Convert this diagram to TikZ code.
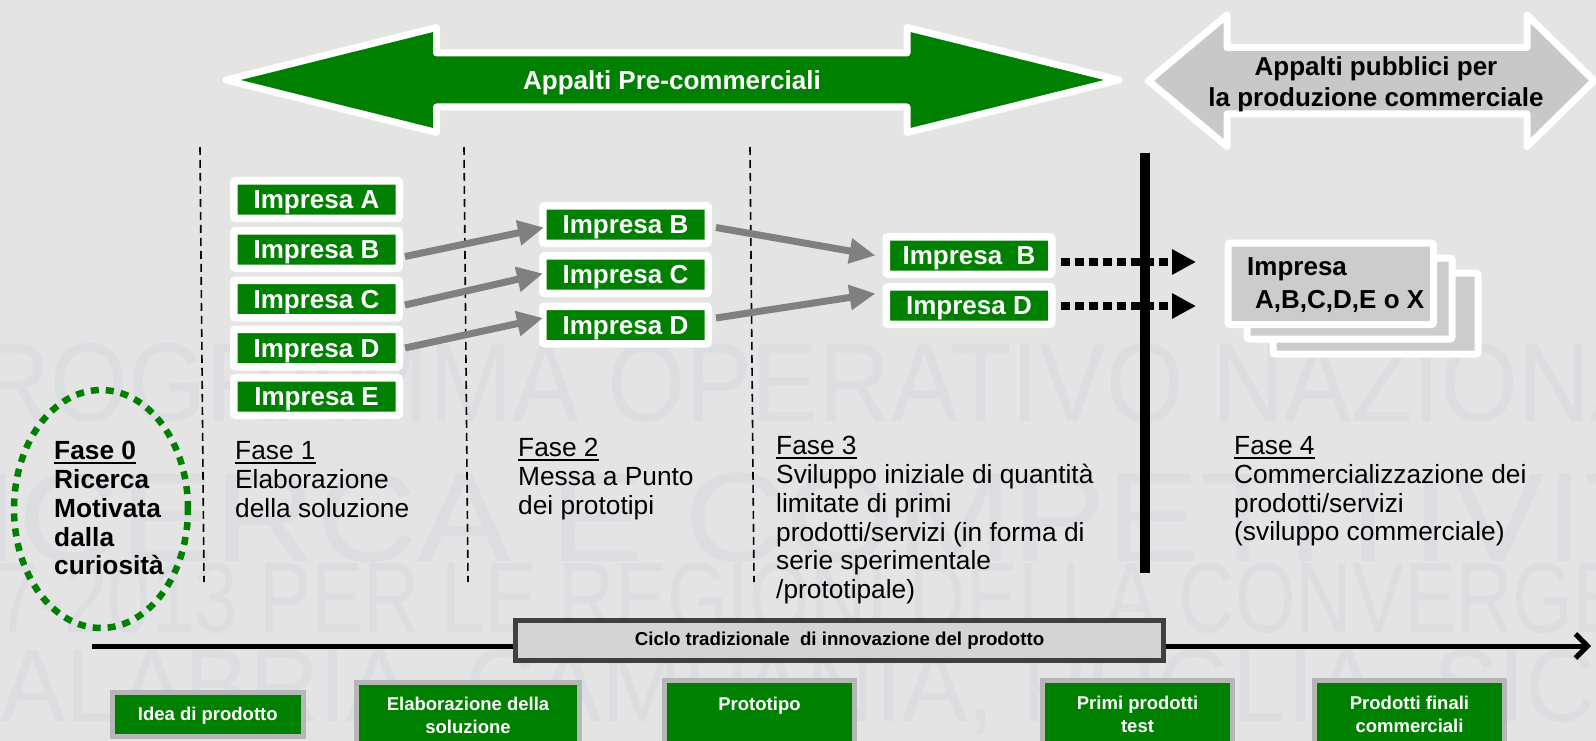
\documentclass[tikz,border=0pt]{standalone}
\usepackage{fontspec}
\usepackage{graphicx}
\setmainfont{Liberation Sans}
\usetikzlibrary{arrows.meta,calc,shapes.geometric}
\definecolor{bg}{RGB}{228,228,228}
\definecolor{pgreen}{RGB}{0,128,0}
\definecolor{wm}{RGB}{220,221,224}
\definecolor{arrgray}{RGB}{200,200,200}
\definecolor{conn}{RGB}{128,128,128}
\definecolor{boxgray}{RGB}{204,204,204}
\definecolor{ciclofill}{RGB}{212,212,212}
\definecolor{cicloborder}{RGB}{64,64,64}
\definecolor{bborder}{RGB}{182,182,182}
\newcommand{\fs}[2]{\fontsize{#1pt}{#2pt}\selectfont}
\newsavebox{\ulbox}
\newcommand{\faseul}[1]{\sbox{\ulbox}{#1}\rlap{\rule[-4.2pt]{\wd\ulbox}{2pt}}\usebox{\ulbox}}
\begin{document}
\begin{tikzpicture}[x=1pt,y=-1pt,
  wmtext/.style={anchor=south west, inner sep=0pt, text=wm, font=\fs{40}{40}},
  impbox/.style={rectangle, fill=pgreen, draw=white, line width=7.5pt, rounded corners=2pt,
    minimum width=165.5pt, minimum height=37.5pt, inner sep=0pt, text=white,
    font=\bfseries\fs{26}{30}, text height=18.5pt, text depth=0pt},
  connarrow/.style={draw=conn, line width=7pt, -{Triangle[length=26pt,width=24pt]}},
  dotarrow/.style={draw=black, line width=8pt, dash pattern=on 9pt off 5pt, -{Triangle[length=24pt,width=24pt]}},
  phasetext/.style={anchor=north west, inner sep=0pt, align=left, font=\fs{26.3}{28.8}},
  vdash/.style={draw=black, line width=1.6pt, dash pattern=on 8pt off 5pt},
  stackbox/.style={rectangle, fill=boxgray, draw=white, line width=7pt, rounded corners=2pt,
    minimum width=205pt, minimum height=81pt, inner sep=0pt},
  bbox/.style={rectangle, fill=pgreen, draw=bborder, line width=5pt, inner sep=0pt},
  btext/.style={anchor=north, inner sep=0pt, align=center, text=white, font=\bfseries\fs{18.5}{23}}
]
\useasboundingbox (0,0) rectangle (1596,741);
\clip (0,0) rectangle (1596,741);
\fill[bg] (0,0) rectangle (1596,741);

% watermark
\node[wmtext] (w1) at (607,423) {\resizebox{577pt}{78pt}{\llap{PROGRAMMA }OPERATIVO\rlap{ NAZIONALE}}};
\node[wmtext] (w2) at (684,563) {\resizebox{900pt}{110pt}{\llap{RICERCA E }COMPETITIVI\rlap{TÀ}}};
\node[wmtext] (w3) at (-5,634) {\resizebox{1578pt}{70pt}{\llap{200}7-2013 PER LE REGIONI DELLA CONVERG\rlap{ENZA}}};
\node[wmtext] (w4) at (0,735) {\resizebox{1525pt}{72pt}{\llap{C}ALABRIA, CAMPANIA, PUGLIA, SI\rlap{CILIA}}};

% top arrows
\draw[draw=white, fill=pgreen, line width=7pt, line join=round]
  (226,80) -- (436.5,27.5) -- (436.5,53) -- (907,53) -- (907,27.5) -- (1119,80)
  -- (907,132.5) -- (907,107) -- (436.5,107) -- (436.5,132.5) -- cycle;
\node[anchor=base, inner sep=0pt, text=white, font=\bfseries\fs{26}{30}] (apc) at (672,90) {Appalti Pre-commerciali};
\draw[draw=white, fill=arrgray, line width=7pt, line join=round]
  (1148.5,80.75) -- (1227,15) -- (1227,47.5) -- (1527,47.5) -- (1527,15) -- (1594,80.75)
  -- (1527,146.5) -- (1527,114) -- (1227,114) -- (1227,146.5) -- cycle;
\node[anchor=north, inner sep=0pt, align=center, font=\bfseries\fs{26}{31}] (app) at (1376,56.5) {Appalti pubblici per\\la produzione commerciale};

% vertical dashed separators
\coordinate (d1t) at (200,147); \coordinate (d1b) at (204,582);
\coordinate (d2t) at (464,147); \coordinate (d2b) at (468,582);
\coordinate (d3t) at (750,147); \coordinate (d3b) at (754,582);
\draw[vdash] (d1t) -- (d1b);
\draw[vdash] (d2t) -- (d2b);
\draw[vdash] (d3t) -- (d3b);

% companies
\node[impbox] (c1a) at (316.5,199.5) {Impresa A};
\node[impbox] (c1b) at (316.5,249.5) {Impresa B};
\node[impbox] (c1c) at (316.5,299) {Impresa C};
\node[impbox] (c1d) at (316.5,348) {Impresa D};
\node[impbox] (c1e) at (316.5,396.5) {Impresa E};
\node[impbox] (c2b) at (625.5,224.5) {Impresa B};
\node[impbox] (c2c) at (625.5,274.5) {Impresa C};
\node[impbox] (c2d) at (625.5,325) {Impresa D};
\node[impbox] (c3b) at (969,255.5) {Impresa\ \ B};
\node[impbox] (c3d) at (969,305.5) {Impresa D};

\draw[connarrow] ($(c1b.east)+(2,7)$) -- ($(c2b.west)+(5,3)$);
\draw[connarrow] ($(c1c.east)+(2,6)$) -- ($(c2c.west)+(4,-1)$);
\draw[connarrow] ($(c1d.east)+(2,0)$) -- ($(c2d.west)+(4,-7)$);
\draw[connarrow] ($(c2b.east)+(4,3)$) -- ($(c3b.west)+(-7,0)$);
\draw[connarrow] ($(c2d.east)+(4,-7)$) -- ($(c3d.west)+(-7,-12)$);

% dotted arrows and bar
\coordinate (t1) at (1196,262);
\coordinate (t2) at (1196,306);
\draw[dotarrow] ($(c3b.east)+(5,6.5)$) -- (t1);
\draw[dotarrow] ($(c3d.east)+(5,0.5)$) -- (t2);
\coordinate (bt) at (1145,153);
\coordinate (bb) at (1145,573);
\draw[line width=10pt] (bt) -- (bb);

% stacked boxes
\node[stackbox] (s3) at (1375.5,313.5) {};
\node[stackbox] (s2) at (1349.5,298.5) {};
\node[stackbox, minimum width=205.5pt, minimum height=81.5pt] (s1) at (1330.75,283.75) {};
\node[anchor=north west, inner sep=0pt, align=left, font=\bfseries\fs{26}{33}] (stxt) at (1247,257.5) {Impresa\\\hspace*{8pt}A,B,C,D,E o X};

% phase 0 ellipse
\node[ellipse, draw=pgreen, line width=6.5pt, dash pattern=on 8pt off 7pt, minimum width=174pt, minimum height=238pt, inner sep=0pt] (e0) at (101,509) {};

% phase texts
\node[phasetext, font=\bfseries\fs{26.3}{28.8}] (f0) at (54,441.2) {\faseul{Fase 0}\\Ricerca\\Motivata\\dalla\\curiosità};
\node[phasetext] (f1) at (235,441.2) {\faseul{Fase 1}\\Elaborazione\\della soluzione};
\node[phasetext] (f2) at (518,438.2) {\faseul{Fase 2}\\Messa a Punto\\dei prototipi};
\node[phasetext] (f3) at (776,436.2) {\faseul{Fase 3}\\Sviluppo iniziale di quantità\\limitate di primi\\prodotti/servizi (in forma di\\serie sperimentale\\/prototipale)};
\node[phasetext] (f4) at (1234,436.2) {\faseul{Fase 4}\\Commercializzazione dei\\prodotti/servizi\\(sviluppo commerciale)};

% timeline
\coordinate (ts) at (92,646);
\coordinate (te) at (1591,646);
\draw[line width=5pt, -{Straight Barb[length=12pt,width=24pt]}] (ts) -- (te);
\node[rectangle, fill=ciclofill, draw=cicloborder, line width=5pt, minimum width=648pt, minimum height=40pt, inner sep=0pt, font=\bfseries\fs{18.7}{20}] (ciclo) at (839.5,640.5) {Ciclo tradizionale\ \ di innovazione del prodotto};

% bottom boxes
\node[bbox, minimum width=190.5pt, minimum height=44pt, text=white, font=\bfseries\fs{18.5}{23}, text height=13.2pt, text depth=0pt] (b1) at (207.75,714) {Idea di prodotto};
\node[bbox, minimum width=223pt, minimum height=90pt, anchor=north] (b2) at (468,679.5) {};
\node[bbox, minimum width=190pt, minimum height=90pt, anchor=north] (b3) at (759.5,677.5) {};
\node[bbox, minimum width=190pt, minimum height=90pt, anchor=north] (b4) at (1137.5,677.5) {};
\node[bbox, minimum width=190pt, minimum height=90pt, anchor=north] (b5) at (1409.5,677.5) {};
\node[btext] (b2t) at (468,697) {Elaborazione della\\soluzione};
\node[btext] (b3t) at (759.5,697) {Prototipo};
\node[btext] (b4t) at (1137.5,695.5) {Primi prodotti\\test};
\node[btext] (b5t) at (1409.5,695.5) {Prodotti finali\\commerciali};
\end{tikzpicture}
\end{document}
